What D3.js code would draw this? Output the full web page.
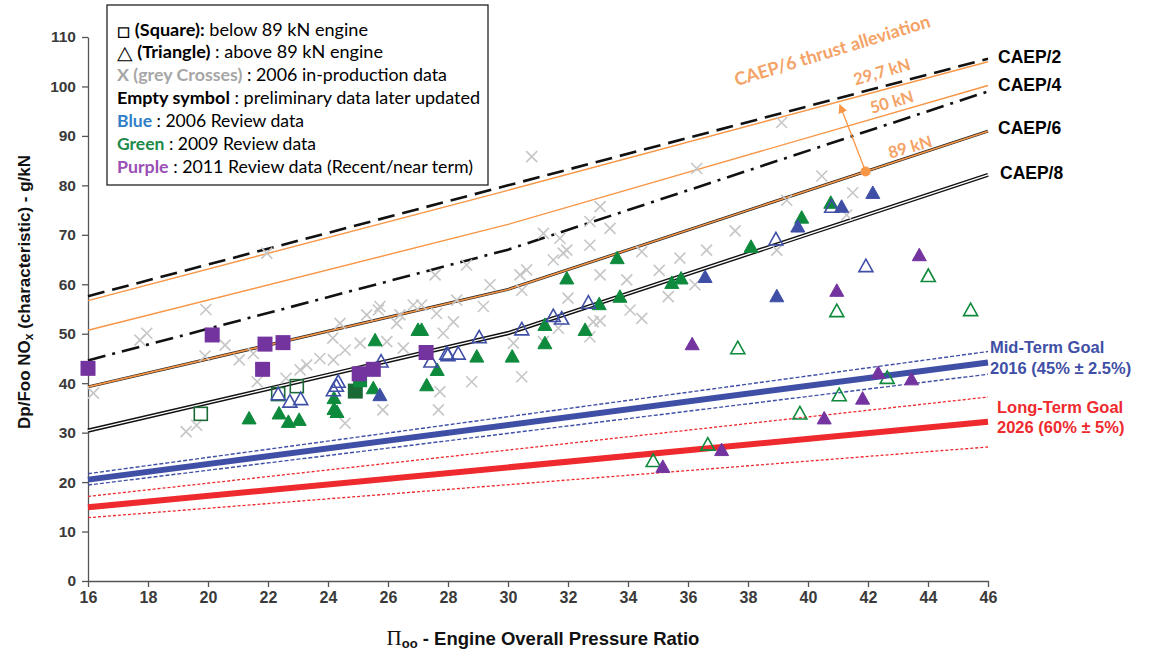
<!DOCTYPE html>
<html><head><meta charset="utf-8">
<script src="https://cdn.jsdelivr.net/npm/d3@7"></script>
<style>body{margin:0;background:#fff}svg{display:block}</style>
</head><body><svg id="c" width="1156" height="653"></svg>
<script>
// ---------------- DATA ----------------
const xTicks = [16,18,20,22,24,26,28,30,32,34,36,38,40,42,44,46];
const yTicks = [0,10,20,30,40,50,60,70,80,90,100,110];

// regulatory lines, evaluated at OPR nodes
const oprNodes = [16, 30, 46];
const caep2 = [57.6, 80.0, 105.6];
const caep4 = [44.6, 67.0, 99.0];
const caep6 = [39.25, 58.96, 90.96];
const caep8 = [30.41, 50.12, 82.12];
const allev297 = [56.7, 79.0, 105.0];
const allev50 = [50.7, 72.1, 100.2];

// goal lines
const goalOpr = [16, 46];
const midGoal = [20.5, 44.2];
const midUpper = [21.7, 46.4];
const midLower = [19.4, 41.8];
const longGoal = [14.9, 32.2];
const longUpper = [17.1, 37.2];
const longLower = [12.8, 27.1];

// grey crosses: 2006 in-production data [OPR, Dp/Foo]
const greyCrosses = [
 [21.96,66.3],[19.93,54.9],[17.96,50.1],[17.73,48.7],[20.57,47.7],[19.9,45.5],[21.04,44.7],[21.51,46.0],
 [16.18,38.0],[21.64,40.3],[22.6,41.0],[23.07,42.7],[23.29,43.7],[23.73,45.0],[24.18,44.7],[24.57,46.7],
 [25.07,48.1],[24.4,52.1],[24.16,49.1],[25.68,54.8],[24.57,31.9],[19.27,30.2],[19.62,31.5],[25.83,34.6],
 [33.07,75.7],[33.4,71.3],[31.18,70.3],[32.73,67.9],[31.96,66.9],[31.84,66.3],[31.51,64.9],[28.62,63.9],
 [30.62,62.9],[27.57,61.9],[29.4,59.9],[30.4,61.9],[33.07,61.9],[33.96,60.9],[32.0,57.2],[28.29,56.8],
 [29.18,55.5],[25.73,55.5],[26.84,55.8],[27.12,55.8],[27.62,54.1],[26.4,53.8],[25.29,53.8],[26.29,52.1],
 [28.18,52.4],[27.84,50.1],[31.18,48.4],[30.18,48.1],[31.68,51.1],[32.84,52.4],[33.07,52.6],[32.73,49.4],
 [34.46,53.1],[34.07,54.8],[28.79,40.3],[30.46,41.3],[27.73,38.3],[30.46,58.8],[26.51,47.1],[25.96,48.4],
 [27.68,34.6],[30.79,85.8],[32.73,72.7],[31.73,69.3],[36.29,83.4],[40.46,81.9],[41.49,78.5],[41.29,74.0],
 [39.29,77.0],[37.57,70.8],[36.62,66.9],[35.73,65.3],[34.46,66.6],[38.96,66.9],[35.04,62.8],[36.23,59.9],
 [35.34,57.5],[39.12,92.7]
];

// triangles (above 89 kN)
const greenFilledTri = [
 [21.37,32.9],[22.37,33.9],[22.68,32.2],[23.04,32.6],[24.2,37.0],[24.2,34.8],[24.3,34.2],[25.57,48.7],
 [25.51,39.0],[27.0,50.8],[27.12,50.8],[27.64,42.7],[27.29,39.6],[28.96,45.4],[30.14,45.4],[31.23,51.8],
 [31.23,48.1],[31.96,61.2],[32.57,50.8],[33.04,56.0],[33.64,65.3],[33.73,57.5],[35.46,60.3],[35.77,61.2],
 [38.1,67.6],[39.79,73.5],[40.76,76.5]
];
const greenEmptyTri = [
 [37.66,47.1],[40.96,54.6],[44.01,61.7],[45.42,54.8],[42.64,41.1],[41.04,37.6],[39.73,33.9],[36.66,27.6],[34.84,24.3]
];
const purpleFilledTri = [
 [43.71,65.9],[40.96,58.7],[36.14,47.9],[42.34,42.1],[43.45,40.8],[41.82,36.9],[40.54,32.9],[37.12,26.5],[35.16,23.1]
];
const blueFilledTri = [
 [36.57,61.5],[38.96,57.6],[39.66,71.7],[41.12,75.7],[42.16,78.5],[25.73,37.6]
];
const blueEmptyTri = [
 [22.34,37.8],[22.73,36.3],[23.09,36.8],[24.34,40.3],[24.18,38.6],[24.28,39.5],[25.77,44.4],[27.43,44.4],
 [27.96,46.0],[28.0,45.7],[28.34,46.0],[29.04,49.3],[30.46,50.9],[31.51,53.6],[31.79,53.1],[32.68,56.3],
 [38.93,69.1],[41.93,63.7],[40.79,75.7]
];

// squares (below 89 kN)
const purpleSquares = [
 [16.0,43.0],[20.14,49.75],[21.9,47.9],[22.5,48.2],[21.82,42.8],[25.04,41.9],[25.51,42.8],[27.27,46.2]
];
const greenFilledSquares = [[25.07,40.6]];
const darkGreenSquares = [[24.91,38.4]];
const greenEmptySquares = [[19.76,33.8],[22.34,37.8],[22.96,39.4]];

// thrust alleviation annotation
const allevDot = [41.92, 82.8];
const allevTip = [41.06, 96.3];

// ---------------- CHART ----------------
const svg = d3.select("#c");
const x = d3.scaleLinear().domain([16,46]).range([88,988]);
const y = d3.scaleLinear().domain([0,110]).range([581,37]);

const ORANGE = "#f79646", BLUE = "#3f4fa6", RED = "#ee2a2e",
      GREEN = "#0e8a3c", DKGREEN = "#1b6a36", PURPLE = "#7434a0", GREY = "#c6c6c6";

const line = d3.line().x(d=>x(d[0])).y(d=>y(d[1]));
const pts = (xs, ys) => xs.map((v,i)=>[v, ys[i]]);

// axes
const ya = svg.append("g").attr("transform","translate(88,0)")
  .call(d3.axisLeft(y).tickValues(yTicks).tickSize(6).tickSizeOuter(0));
ya.select(".domain").attr("stroke","#555").attr("stroke-width",1.3);
ya.selectAll(".tick line").attr("stroke","#555").attr("stroke-width",1.3);
ya.selectAll(".tick text").attr("font-family","Liberation Sans, Arial, sans-serif")
  .attr("font-size",15.5).attr("font-weight","bold").attr("fill","#3a3a3a").attr("x",-12);

const xa = svg.append("g").attr("transform","translate(0,581)")
  .call(d3.axisBottom(x).tickValues(xTicks).tickSize(6).tickSizeOuter(0));
xa.select(".domain").attr("stroke","#555").attr("stroke-width",1.3);
xa.selectAll(".tick line").attr("stroke","#555").attr("stroke-width",1.3);
xa.selectAll(".tick text").attr("font-family","Liberation Sans, Arial, sans-serif")
  .attr("font-size",16).attr("font-weight","bold").attr("fill","#3a3a3a").attr("y",11);

// goal lines
const gl = svg.append("g");
function drawLine(data, stroke, width, dash){
  gl.append("path").attr("d", line(data)).attr("fill","none")
    .attr("stroke",stroke).attr("stroke-width",width).attr("stroke-dasharray",dash||null);
}
drawLine(pts(goalOpr,longUpper), RED, 1.3, "3,2");
drawLine(pts(goalOpr,longLower), RED, 1.3, "3,2");
drawLine(pts(goalOpr,longGoal), RED, 6);
drawLine(pts(goalOpr,midUpper), BLUE, 1.4, "4,2");
drawLine(pts(goalOpr,midLower), BLUE, 1.4, "4,2");
drawLine(pts(goalOpr,midGoal), BLUE, 6);

// crosses (under regulatory lines)
const cs = 5.5;
svg.append("g").selectAll("path").data(greyCrosses).join("path")
  .attr("d", d=>{const cx=x(d[0]), cy=y(d[1]);
    return `M${cx-cs},${cy-cs}L${cx+cs},${cy+cs}M${cx-cs},${cy+cs}L${cx+cs},${cy-cs}`;})
  .attr("stroke",GREY).attr("stroke-width",1.6).attr("fill","none");

// regulatory lines
drawLine(pts(oprNodes,allev297), ORANGE, 1.4);
drawLine(pts(oprNodes,allev50), ORANGE, 1.4);
drawLine(pts(oprNodes,caep2), "#111", 2.6, "17,8");
drawLine(pts(oprNodes,caep4), "#111", 2.6, "18,7,3,7");
drawLine(pts(oprNodes,caep6), "#222", 3);
drawLine(pts(oprNodes,caep6), ORANGE, 1.6);
drawLine(pts(oprNodes,caep8), "#111", 4.2);
drawLine(pts(oprNodes,caep8), "#fff", 1.4);

// markers
const mk = svg.append("g");
const ts = 14, th = 12.5;
const triPath = d => {const cx=x(d[0]), cy=y(d[1]);
  return `M${cx},${cy-th*0.55}L${cx+ts/2},${cy+th*0.45}L${cx-ts/2},${cy+th*0.45}Z`;};
function tris(data, color, filled){
  mk.append("g").selectAll("path").data(data).join("path").attr("d",triPath)
    .attr("fill", filled?color:"none").attr("stroke",color).attr("stroke-width",filled?1:1.6);
}
function squares(data, color, filled, size){
  const s = size||14;
  mk.append("g").selectAll("rect").data(data).join("rect")
    .attr("x",d=>x(d[0])-s/2).attr("y",d=>y(d[1])-s/2).attr("width",s).attr("height",s)
    .attr("fill", filled?color:"none").attr("stroke",color).attr("stroke-width",filled?0:1.6);
}
squares(greenEmptySquares, DKGREEN, false, 13);
squares(darkGreenSquares, DKGREEN, true, 15);
squares(greenFilledSquares, GREEN, true, 14);
tris(greenFilledTri, GREEN, true);
tris(greenEmptyTri, GREEN, false);
tris(blueFilledTri, BLUE, true);
tris(blueEmptyTri, BLUE, false);
tris(purpleFilledTri, PURPLE, true);
squares(purpleSquares, PURPLE, true, 15);

// alleviation arrow
svg.append("defs").append("marker").attr("id","ah").attr("viewBox","0 0 10 10")
  .attr("refX",9).attr("refY",5).attr("markerWidth",7).attr("markerHeight",7).attr("orient","auto")
  .append("path").attr("d","M0,0L10,5L0,10Z").attr("fill",ORANGE);
svg.append("line").attr("x1",x(allevDot[0])).attr("y1",y(allevDot[1]))
  .attr("x2",x(allevTip[0])).attr("y2",y(allevTip[1])).attr("stroke",ORANGE).attr("stroke-width",1.3)
  .attr("marker-end","url(#ah)");
svg.append("circle").attr("cx",x(allevDot[0])).attr("cy",y(allevDot[1])).attr("r",5).attr("fill",ORANGE);

// orange annotations
function rotText(t, ox, oy, ang, size){
  svg.append("text").attr("transform",`translate(${x(ox)},${y(oy)}) rotate(${ang})`)
    .attr("text-anchor","middle").attr("dominant-baseline","central")
    .attr("font-family","Lato, Open Sans, sans-serif").attr("font-size",size).attr("font-weight","bold")
    .attr("fill","#f4a266").text(t);
}
rotText("CAEP/6 thrust alleviation", 40.8, 107.4, -17, 18);
rotText("29,7 kN", 42.46, 103.0, -16, 16.5);
rotText("50 kN", 42.79, 96.9, -16, 16.5);
rotText("89 kN", 43.4, 87.8, -16, 16.5);

// CAEP labels
const lab = (t, px, py, col, size) => svg.append("text").attr("x",px).attr("y",py)
  .attr("dominant-baseline","central").attr("font-family","Liberation Sans, Arial, sans-serif")
  .attr("font-weight","bold").attr("font-size",size).attr("fill",col).text(t);
lab("CAEP/2", 998, 57, "#000", 17.5);
lab("CAEP/4", 998, 85, "#000", 17.5);
lab("CAEP/6", 998, 128, "#000", 17.5);
lab("CAEP/8", 1000, 173, "#000", 17.5);
lab("Mid-Term Goal", 990, 347, BLUE, 16.5);
lab("2016 (45% \u00b1 2.5%)", 990, 368, BLUE, 16.5);
lab("Long-Term Goal", 997, 407, RED, 16.5);
lab("2026 (60% \u00b1 5%)", 997, 427, RED, 16.5);

// axis titles
const yt = svg.append("text").attr("transform","translate(24,292) rotate(-90)")
  .attr("text-anchor","middle").attr("dominant-baseline","central")
  .attr("font-family","Liberation Sans, Arial, sans-serif").attr("font-weight","bold").attr("font-size",17).attr("fill","#111");
yt.append("tspan").text("Dp/Foo NO");
yt.append("tspan").attr("font-size",12).attr("dy",5).text("x");
yt.append("tspan").attr("dy",-5).text(" (characteristic) - g/kN");

const xt = svg.append("text").attr("x",543).attr("y",638).attr("text-anchor","middle")
  .attr("dominant-baseline","central")
  .attr("font-family","Liberation Sans, Arial, sans-serif").attr("font-weight","bold").attr("font-size",18.5).attr("fill","#111");
xt.append("tspan").attr("font-family","Liberation Serif, serif").attr("font-weight","normal").attr("font-size",21).text("\u03a0");
xt.append("tspan").attr("font-size",13).attr("dy",5).text("oo");
xt.append("tspan").attr("dy",-5).text(" - Engine Overall Pressure Ratio");

// legend
const lg = svg.append("g");
lg.append("rect").attr("x",107).attr("y",5).attr("width",381).attr("height",180)
  .attr("fill","#fff").attr("stroke","#222").attr("stroke-width",1.3);
const legendRows = [
  [["\u25a1","#000",false,21],[" (Square):","#000",true],[" below 89 kN engine","#000",false]],
  [["\u25b3","#000",false,19],[" (Triangle)","#000",true],[" : above 89 kN engine","#000",false]],
  [["X (grey Crosses)","#a6a6a6",true],[" : 2006  in-production data","#000",false]],
  [["Empty symbol","#000",true],[" : preliminary data later updated","#000",false]],
  [["Blue","#2f7fc8",true],[" : 2006  Review data","#000",false]],
  [["Green","#1e8a4a",true],[" : 2009  Review data","#000",false]],
  [["Purple","#9a4fb4",true],[" : 2011  Review data (Recent/near term)","#000",false]]
];
const legendWidths = [251, 266, 330, 363, 187, 199, 356];
legendRows.forEach((row,i)=>{
  const t = lg.append("text").attr("x",117).attr("y",28.5+i*22.9).attr("dominant-baseline","central")
    .attr("font-family","Lato, Open Sans, sans-serif").attr("font-size",17).attr("fill","#000")
    .attr("textLength",legendWidths[i]).attr("lengthAdjust","spacingAndGlyphs");
  row.forEach(s=>{const ts=t.append("tspan").attr("fill",s[1]).attr("font-weight",s[2]?"bold":"normal").text(s[0]);
    if(s[3]) ts.attr("font-size",s[3]);});
});
</script></body></html>
